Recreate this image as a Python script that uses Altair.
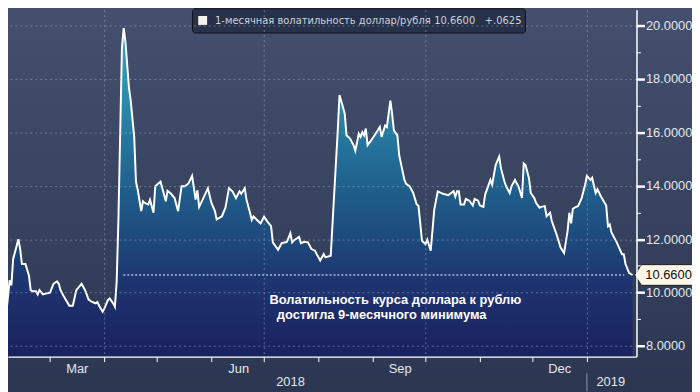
import altair as alt
import pandas as pd

# ---- series: 1-month USD/RUB implied volatility ----
dates = [
    "2018-02-01", "2018-02-02", "2018-02-04", "2018-02-06", "2018-02-07", "2018-02-08",
    "2018-02-11", "2018-02-12", "2018-02-13", "2018-02-15", "2018-02-17", "2018-02-18",
    "2018-02-19", "2018-02-21", "2018-02-22", "2018-02-23", "2018-02-25", "2018-02-27",
    "2018-03-01", "2018-03-03", "2018-03-05", "2018-03-06", "2018-03-07", "2018-03-09",
    "2018-03-12", "2018-03-14", "2018-03-16", "2018-03-19", "2018-03-21", "2018-03-23",
    "2018-03-25", "2018-03-27", "2018-03-28", "2018-03-29", "2018-03-31", "2018-04-01",
    "2018-04-03", "2018-04-04", "2018-04-06", "2018-04-07", "2018-04-08", "2018-04-09",
    "2018-04-11", "2018-04-12", "2018-04-13", "2018-04-15", "2018-04-16", "2018-04-18",
    "2018-04-19", "2018-04-20", "2018-04-22", "2018-04-23", "2018-04-24", "2018-04-26",
    "2018-04-27", "2018-04-29", "2018-04-30", "2018-05-03", "2018-05-06", "2018-05-07",
    "2018-05-09", "2018-05-11", "2018-05-13", "2018-05-15", "2018-05-17", "2018-05-19",
    "2018-05-21", "2018-05-23", "2018-05-24", "2018-05-25", "2018-05-27", "2018-05-30",
    "2018-06-01", "2018-06-03", "2018-06-04", "2018-06-07", "2018-06-09", "2018-06-11",
    "2018-06-13", "2018-06-15", "2018-06-17", "2018-06-18", "2018-06-20", "2018-06-21",
    "2018-06-23", "2018-06-24", "2018-06-25", "2018-06-27", "2018-06-29", "2018-07-01",
    "2018-07-03", "2018-07-05", "2018-07-06", "2018-07-09", "2018-07-11", "2018-07-14",
    "2018-07-16", "2018-07-17", "2018-07-18", "2018-07-21", "2018-07-22", "2018-07-24",
    "2018-07-26", "2018-07-28", "2018-07-30", "2018-07-31", "2018-08-02", "2018-08-04",
    "2018-08-05", "2018-08-08", "2018-08-10", "2018-08-12", "2018-08-13", "2018-08-15",
    "2018-08-16", "2018-08-17", "2018-08-19", "2018-08-21", "2018-08-22", "2018-08-24",
    "2018-08-25", "2018-08-26", "2018-08-27", "2018-08-28", "2018-08-29", "2018-08-31",
    "2018-09-02", "2018-09-05", "2018-09-06", "2018-09-08", "2018-09-09", "2018-09-11",
    "2018-09-12", "2018-09-13", "2018-09-15", "2018-09-16", "2018-09-17", "2018-09-19",
    "2018-09-20", "2018-09-22", "2018-09-24", "2018-09-26", "2018-09-27", "2018-09-28",
    "2018-09-29", "2018-10-01", "2018-10-02", "2018-10-04", "2018-10-06", "2018-10-08",
    "2018-10-11", "2018-10-14", "2018-10-16", "2018-10-17", "2018-10-18", "2018-10-19",
    "2018-10-20", "2018-10-21", "2018-10-23", "2018-10-24", "2018-10-26", "2018-10-28",
    "2018-10-29", "2018-10-31", "2018-11-01", "2018-11-03", "2018-11-04", "2018-11-07",
    "2018-11-08", "2018-11-10", "2018-11-12", "2018-11-13", "2018-11-15", "2018-11-16",
    "2018-11-18", "2018-11-19", "2018-11-21", "2018-11-22", "2018-11-23", "2018-11-25",
    "2018-11-26", "2018-11-27", "2018-11-29", "2018-11-30", "2018-12-02", "2018-12-03",
    "2018-12-05", "2018-12-06", "2018-12-08", "2018-12-09", "2018-12-11", "2018-12-12",
    "2018-12-15", "2018-12-17", "2018-12-19", "2018-12-21", "2018-12-22", "2018-12-23",
    "2018-12-24", "2018-12-25", "2018-12-27", "2018-12-29", "2018-12-31", "2019-01-01",
    "2019-01-03", "2019-01-04", "2019-01-05", "2019-01-06", "2019-01-07", "2019-01-09",
    "2019-01-12", "2019-01-13", "2019-01-14", "2019-01-15", "2019-01-18", "2019-01-21",
    "2019-01-22", "2019-01-23", "2019-01-25", "2019-01-27",
]
values = [
    8.98, 8.79, 9.16, 10.46, 10.27, 11.26,
    12.00, 11.63, 11.07, 11.07, 10.64, 10.09,
    10.05, 10.05, 9.93, 10.09, 9.93, 9.97,
    10.00, 10.33, 10.42, 10.33, 10.09, 9.84,
    9.51, 9.51, 10.09, 10.33, 10.09, 9.74,
    9.65, 9.60, 9.65, 9.51, 9.28, 9.40,
    9.72, 9.78, 9.60, 9.47, 10.40, 12.74,
    19.16, 19.90, 19.40, 17.68, 17.19, 15.83,
    14.16, 13.85, 13.05, 13.42, 13.36, 13.30,
    13.48, 12.99, 13.98, 14.16, 13.42, 13.81,
    13.70, 13.54, 13.05, 13.98, 13.98, 14.10,
    14.37, 13.48, 13.83, 13.21, 13.48, 13.91,
    13.36, 13.05, 12.74, 12.86, 13.18, 13.91,
    13.79, 13.54, 13.79, 13.70, 13.91, 13.48,
    12.99, 12.72, 12.85, 12.72, 12.59, 12.84,
    12.65, 12.49, 11.88, 11.60, 11.85, 11.90,
    12.22, 11.88, 11.95, 12.09, 11.85, 11.90,
    11.88, 11.63, 11.57, 11.44, 11.20, 11.44,
    11.32, 11.38, 13.73, 16.07, 17.40, 16.94,
    16.69, 15.89, 15.77, 15.52, 15.31, 15.95,
    15.83, 16.01, 15.89, 16.14, 15.52, 15.70,
    15.89, 16.20, 15.83, 16.26, 16.20, 17.19,
    16.69, 16.07, 15.89, 15.15, 14.84, 14.22,
    14.07, 13.98, 13.73, 13.30, 13.25, 12.62,
    11.94, 11.81, 11.98, 11.57, 13.11, 13.79,
    13.70, 13.65, 13.75, 13.80, 13.60, 13.80,
    13.80, 13.30, 13.30, 13.51, 13.44, 13.26,
    13.51, 13.44, 13.26, 13.21, 13.67, 14.22,
    14.04, 14.78, 15.09, 14.66, 14.16, 13.98,
    13.73, 13.98, 14.22, 14.09, 13.98, 13.54,
    14.84, 14.78, 14.28, 13.73, 13.54, 13.36,
    13.18, 13.21, 13.24, 12.86, 12.99, 12.68,
    12.12, 11.69, 11.48, 12.31, 12.99, 12.59,
    13.14, 13.18, 13.24, 13.54, 14.04, 14.37,
    14.22, 14.30, 14.00, 13.73, 13.87, 13.60,
    13.26, 12.49, 12.55, 12.25, 11.88, 11.44,
    11.44, 11.07, 10.74, 10.66,
]

last_value = 10.66
legend_texts = ["1-месячная волатильность доллар/рубля", "10.6600", "+.0625"]
legend_text_dates = ["2018-06-03T02:00", "2018-10-06T00:00", "2018-11-03T19:00"]
annot_lines = ["Волатильность курса доллара к рублю", "достигла 9-месячного минимума"]
annot_dates = ["2018-07-04T02:00", "2018-07-08T07:00"]
annot_values = [9.56, 9.00]
years = ["2018", "2019"]
year_dates = ["2018-07-16T02:00", "2019-01-14T14:00"]
year_value = 6.64

FONT = "Liberation Sans"
LABEL = "#e4e7ec"
Y_MIN, Y_MAX = 7.603, 20.594

df = pd.DataFrame({"date": pd.to_datetime(dates), "vol": values})

xscale = alt.Scale(domain=[
    alt.DateTime(year=2018, month=2, date=5, hours=1, minutes=38),
    alt.DateTime(year=2019, month=1, date=29, hours=6, minutes=15),
])
yscale = alt.Scale(domain=[Y_MIN, Y_MAX], nice=False, zero=False)

month_ticks = [alt.DateTime(year=2018, month=m, date=1) for m in range(3, 13)] + [
    alt.DateTime(year=2019, month=1, date=1)
]

x_axis = alt.Axis(
    values=month_ticks,
    labelExpr="indexof([2,5,8,11], month(datum.value)) >= 0 ? timeFormat(datum.value, '%b') : ''",
    labelOffset=27, labelPadding=1, labelFont=FONT, labelFontSize=13, labelColor=LABEL,
    tickSize=5, tickColor="#ffffff", domainColor="#ffffff", domainWidth=1.5,
    grid=True, gridColor="#9aa8c8", gridDash=[2, 3], gridWidth=1,
    gridOpacity={"condition": {"test": "month(datum.value) % 3 == 0", "value": 0.55}, "value": 0},
    title=None, zindex=1,
)
y_axis = alt.Axis(
    orient="right",
    values=list(range(8, 21)),
    labelExpr="datum.value % 2 == 0 ? format(datum.value, '.4f') : ''",
    labelPadding=1, labelFont=FONT, labelFontSize=13, labelColor=LABEL,
    tickColor="#ffffff", domainColor="#ffffff", domainWidth=1.5,
    tickSize={"condition": {"test": "datum.value % 2 != 0", "value": 4}, "value": 8},
    tickWidth={"condition": {"test": "datum.value % 2 != 0", "value": 1}, "value": 2.5},
    grid=True, gridColor="#9aa8c8", gridDash=[2, 3], gridWidth=1,
    gridOpacity={"condition": {"test": "datum.value % 2 == 0", "value": 0.55}, "value": 0},
    title=None, zindex=1,
)


def X(field="date"):
    return alt.X(f"{field}:T", scale=xscale, axis=x_axis)


def Y(field):
    return alt.Y(f"{field}:Q", scale=yscale, axis=y_axis)


# background (gradient) spanning the whole figure
bg_df = pd.DataFrame({"x": pd.to_datetime(["2018-01-01"]), "x2": pd.to_datetime(["2019-04-01"]),
                      "y": [22.0], "y2": [5.0]})
bg = alt.Chart(bg_df).mark_rect(
    clip=False,
    color=alt.Gradient(gradient="linear", x1=0, x2=0, y1=0, y2=1, stops=[
        alt.GradientStop(offset=0, color="#465270"),
        alt.GradientStop(offset=1, color="#29354f"),
    ]),
).encode(x=X("x"), x2="x2:T", y=Y("y"), y2="y2:Q")

area = alt.Chart(df).mark_area(
    clip=True,
    color=alt.Gradient(gradient="linear", x1=0, x2=0, y1=0, y2=1, stops=[
        alt.GradientStop(offset=0.0, color="#36a3bf"),
        alt.GradientStop(offset=0.22, color="#2a8cab"),
        alt.GradientStop(offset=0.34, color="#25769c"),
        alt.GradientStop(offset=0.49, color="#1f5f8c"),
        alt.GradientStop(offset=0.64, color="#1e4a7d"),
        alt.GradientStop(offset=0.77, color="#1d3570"),
        alt.GradientStop(offset=1.0, color="#1b215f"),
    ]),
).encode(x=X(), y=Y("vol"), y2=alt.datum(Y_MIN))

line = alt.Chart(df).mark_line(clip=True, color="#ffffff", strokeWidth=2).encode(
    x=X(), y=Y("vol")
)

rule_df = pd.DataFrame({"x": pd.to_datetime(["2018-04-11T19:00"]),
                        "x2": pd.to_datetime(["2019-01-22T07:00"]), "y": [last_value]})
dotted = alt.Chart(rule_df).mark_rule(color="#ffffff", strokeDash=[2, 2], strokeWidth=1).encode(
    x=X("x"), x2="x2:T", y=Y("y")
)

annot_df = pd.DataFrame({"date": pd.to_datetime(annot_dates), "v": annot_values, "t": annot_lines})
annot = alt.Chart(annot_df).mark_text(
    align="left", baseline="alphabetic", font=FONT, fontSize=13, fontWeight="bold", color="#ffffff"
).encode(x=X(), y=Y("v"), text="t:N")

# legend box
lg_df = pd.DataFrame({"x": pd.to_datetime(["2018-05-21T05:00"]), "x2": pd.to_datetime(["2018-11-27"]),
                      "y": [20.63], "y2": [19.72]})
lg_box = alt.Chart(lg_df).mark_rect(
    fill="#27324a", stroke="#0e131b", strokeWidth=1, cornerRadius=3
).encode(x=X("x"), x2="x2:T", y=Y("y"), y2="y2:Q")
sq_df = pd.DataFrame({"date": pd.to_datetime(["2018-05-27"]), "v": [20.19]})
lg_sq = alt.Chart(sq_df).mark_point(
    shape="square", size=81, filled=True, color="#f3efe9", opacity=1
).encode(x=X(), y=Y("v"))
lt_df = pd.DataFrame({"date": pd.to_datetime(legend_text_dates), "v": [20.17] * 3, "t": legend_texts})
lg_text = alt.Chart(lt_df).mark_text(
    align="left", baseline="middle", font="DejaVu Sans", fontSize=10, color="#cdd2da"
).encode(x=X(), y=Y("v"), text="t:N")

# last value tag on the right axis
tag_df = pd.DataFrame({"date": pd.to_datetime(["2019-02-13T14:00"]), "v": [last_value]})
tag = alt.Chart(tag_df).mark_point(
    shape="M -1 0 L -0.76 -0.36 L 1.1 -0.36 L 1.1 0.36 L -0.76 0.36 Z",
    size=3364, filled=True, fill="#fdf7ea", stroke="#1e1e1e", strokeWidth=1, opacity=1,
).encode(x=X(), y=Y("v"))
tagt_df = pd.DataFrame({"date": pd.to_datetime(["2019-02-03T07:00"]), "v": [last_value],
                        "t": [f"{last_value:.4f}"]})
tag_text = alt.Chart(tagt_df).mark_text(
    align="left", baseline="middle", font=FONT, fontSize=13, color="#111111"
).encode(x=X(), y=Y("v"), text="t:N")

# year row
yr_df = pd.DataFrame({"date": pd.to_datetime(year_dates), "v": [year_value] * 2, "t": years})
yr_text = alt.Chart(yr_df).mark_text(
    align="center", baseline="middle", font=FONT, fontSize=13, color=LABEL
).encode(x=X(), y=Y("v"), text="t:N")
sep_df = pd.DataFrame({"date": pd.to_datetime(["2019-01-01"]), "y": [6.97], "y2": [6.30]})
sep = alt.Chart(sep_df).mark_rule(color="#8e97a8", strokeWidth=1).encode(
    x=X(), y=Y("y"), y2="y2:Q"
)

chart = alt.layer(
    bg, area, line, dotted, annot, lg_box, lg_sq, lg_text, tag, tag_text, yr_text, sep
).properties(
    width=634, height=350,
    autosize=alt.AutoSizeParams(type="none"),
    padding={"left": 0, "top": 0, "right": 56, "bottom": 34},
    background="#36425c",
).configure_view(stroke=None)

chart.save("out.html", embed_options={"renderer": "svg", "actions": False})
